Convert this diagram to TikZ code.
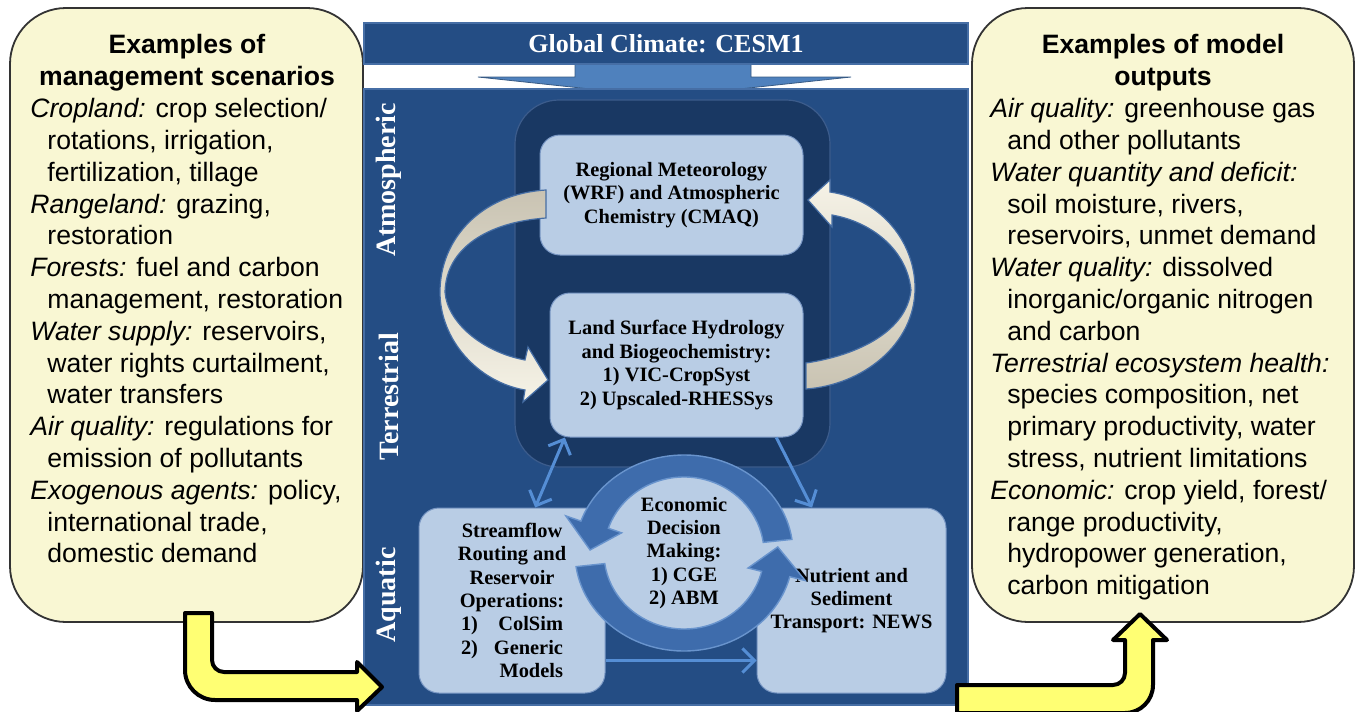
\documentclass[tikz,border=0pt]{standalone}
\usepackage{fontspec}
\setmainfont{Liberation Serif}
\newfontfamily\arialfont{Liberation Sans}
\usetikzlibrary{shapes.geometric,arrows.meta}

\definecolor{cream}{RGB}{249,247,211}
\definecolor{panelblue}{RGB}{36,77,132}
\definecolor{paneledge}{RGB}{70,110,165}
\definecolor{navy}{RGB}{25,56,99}
\definecolor{navyedge}{RGB}{60,92,140}
\definecolor{boxblue}{RGB}{185,205,229}
\definecolor{boxedge}{RGB}{120,150,195}
\definecolor{accent}{RGB}{79,129,189}
\definecolor{linkblue}{RGB}{85,142,213}
\definecolor{ringblue}{RGB}{62,108,172}
\definecolor{ringedge}{RGB}{105,148,205}
\definecolor{beige}{RGB}{201,195,178}
\definecolor{lightbeige}{RGB}{246,243,231}
\definecolor{arrowyellow}{RGB}{255,255,115}

\newcommand{\indln}{\hspace*{8.5pt}}

\begin{document}
\begin{tikzpicture}[x=0.5pt,y=-0.5pt,
    note/.style={draw=black!80, line width=0.9pt, fill=cream, rounded corners=28pt, inner sep=0},
    notehead/.style={font=\arialfont\bfseries\fontsize{13.3}{15.9}\selectfont, align=center, inner sep=0, anchor=north},
    notetext/.style={font=\arialfont\fontsize{13.3}{15.9}\selectfont, align=left, inner sep=0, anchor=north west},
    model/.style={fill=boxblue, draw=boxedge, line width=0.5pt, rounded corners=10pt, align=center, font=\bfseries\fontsize{10.2}{11.7}\selectfont, inner sep=0},
    tier/.style={rotate=90, text=white, font=\bfseries\fontsize{14}{16}\selectfont},
    link/.style={draw=linkblue, line width=1.5pt, >={Straight Barb[length=6pt,width=12pt]}},
    yarrow/.style={draw=black, line width=2pt, fill=arrowyellow, line join=round},
    swirl/.style={draw=paneledge, line width=0.6pt},
    ring/.style={fill=ringblue, draw=ringedge, line width=0.7pt}]
    \useasboundingbox (0,0) rectangle (1356,712);

    % side boxes
    \node[note, minimum width=176.5pt, minimum height=307pt] (mgmt) at (186.5,315) {};
    \node[note, minimum width=191pt, minimum height=307pt] (outs) at (1163,315) {};
    \node[notehead] (mgmthead) at (187,34) {Examples of\\management scenarios};
    \node[notetext] (mgmttext) at (30,98) {{\itshape Cropland:} crop selection/\\
        \indln rotations, irrigation,\\
        \indln fertilization, tillage\\
        {\itshape Rangeland:} grazing,\\
        \indln restoration\\
        {\itshape Forests:} fuel and carbon\\
        \indln management, restoration\\
        {\itshape Water supply:} reservoirs,\\
        \indln water rights curtailment,\\
        \indln water transfers\\
        {\itshape Air quality:} regulations for\\
        \indln emission of pollutants\\
        {\itshape Exogenous agents:} policy,\\
        \indln international trade,\\
        \indln domestic demand};
    \node[notehead] (outhead) at (1163,34) {Examples of model\\outputs};
    \node[notetext] (outtext) at (990,98) {{\itshape Air quality:} greenhouse gas\\
        \indln and other pollutants\\
        {\itshape Water quantity and deficit:}\\
        \indln soil moisture, rivers,\\
        \indln reservoirs, unmet demand\\
        {\itshape Water quality:} dissolved\\
        \indln inorganic/organic nitrogen\\
        \indln and carbon\\
        {\itshape Terrestrial ecosystem health:}\\
        \indln species composition, net\\
        \indln primary productivity, water\\
        \indln stress, nutrient limitations\\
        {\itshape Economic:} crop yield, forest/\\
        \indln range productivity,\\
        \indln hydropower generation,\\
        \indln carbon mitigation};

    % global climate strip and panel
    \filldraw[fill=accent, draw=accent!70!black, line width=0.4pt] (575,64) -- (751,64) -- (751,77) -- (851,77) -- (665,97) -- (478,77) -- (575,77) -- cycle;
    \filldraw[fill=panelblue, draw=paneledge, line width=0.6pt] (364,89) rectangle (968,705);
    \node[fill=panelblue, draw=paneledge, line width=0.6pt, minimum width=302pt, minimum height=20.5pt, text=white, font=\bfseries\fontsize{13}{15}\selectfont] (cesm) at (666,43.5) {Global Climate: CESM1};
    \filldraw[fill=navy, draw=navyedge, line width=0.6pt, rounded corners=22pt] (515,100) rectangle (830,467);

    % model boxes
    \node[model, minimum width=131.5pt, minimum height=60pt] (wrf) at (671.5,195) {Regional Meteorology\\(WRF) and Atmospheric\\Chemistry (CMAQ)};
    \node[model, minimum width=126.5pt, minimum height=72pt] (vic) at (676.5,365) {Land Surface Hydrology\\and Biogeochemistry:\\1) VIC-CropSyst\\2) Upscaled-RHESSys};
    \node[model, minimum width=93pt, minimum height=92.5pt] (colsim) at (512,600.5) {Streamflow\\Routing and\\Reservoir\\Operations:\\\makebox[51pt][l]{1)\hfill ColSim}\\\makebox[51pt][l]{2)\hfill Generic}\\\makebox[51pt][r]{Models}};
    \node[model, minimum width=94.5pt, minimum height=92.5pt] (news) at (851.5,600.5) {Nutrient and\\Sediment\\Transport: NEWS};

    % exchange between atmosphere and land
    \shadedraw[swirl, top color=beige, bottom color=lightbeige] (546,190) .. controls (480,194) and (440,240) .. (440,292) .. controls (440,340) and (478,382) .. (525,390) -- (523,402) -- (548,380) -- (528,347) -- (525,360) .. controls (482,352) and (447,322) .. (445,292) .. controls (446,248) and (488,222) .. (546,218) -- cycle;
    \shadedraw[swirl, top color=lightbeige, bottom color=beige] (806,363) .. controls (860,355) and (907,330) .. (911,290) .. controls (907,250) and (872,222) .. (832,215) -- (832,227) -- (808,200) -- (830,180) -- (830,192) .. controls (884,200) and (915,245) .. (915,288) .. controls (915,345) and (862,385) .. (806,389) -- cycle;

    % economic ring
    \node[ellipse, fill=boxblue, minimum width=82pt, minimum height=78pt, inner sep=0, align=center, font=\bfseries\fontsize{10.2}{11.7}\selectfont] (econ) at (684,553) {Economic\\Decision\\Making:\\1) CGE\\2) ABM};
    \begin{scope}[shift={(684,553)}]
        \filldraw[ring] (352:109 and 98) arc[start angle=352, end angle=199, x radius=109, y radius=98] -- (199:125 and 114) -- (182:94 and 87) -- (199:66 and 62) -- (199:80 and 76) arc[start angle=199, end angle=352, x radius=80, y radius=76] -- cycle;
        \filldraw[ring] (172:109 and 98) arc[start angle=172, end angle=14, x radius=109, y radius=98] -- (14:125 and 114) -- (-4:94 and 87) -- (14:66 and 62) -- (14:80 and 76) arc[start angle=14, end angle=172, x radius=80, y radius=76] -- cycle;
    \end{scope}

    % links
    \draw[link,<->] (vic.213) -- (colsim.76);
    \draw[link,->] (vic.-36) -- (news.113);
    \draw[link,->] ([yshift=-30pt]colsim.east) -- ([yshift=-30pt]news.west);

    % tiers
    \node[tier] (atmos) at (389,180) {Atmospheric};
    \node[tier] (terr) at (389,397) {Terrestrial};
    \node[tier] (aqua) at (389,595) {Aquatic};

    % yellow arrows
    \draw[yarrow] (185,613) -- (212,613) -- (212,660) arc[start angle=180, end angle=90, radius=12] -- (357,672) -- (357,662) -- (382,687) -- (357,711) -- (357,700) -- (215,700) arc[start angle=90, end angle=180, radius=30] -- cycle;
    \draw[yarrow] (957,685) -- (1113,685) arc[start angle=90, end angle=0, radius=12] -- (1125,640) -- (1113,640) -- (1140,614) -- (1167,640) -- (1153,640) -- (1153,685) arc[start angle=0, end angle=90, radius=28] -- (957,713) -- cycle;
\end{tikzpicture}
\end{document}
